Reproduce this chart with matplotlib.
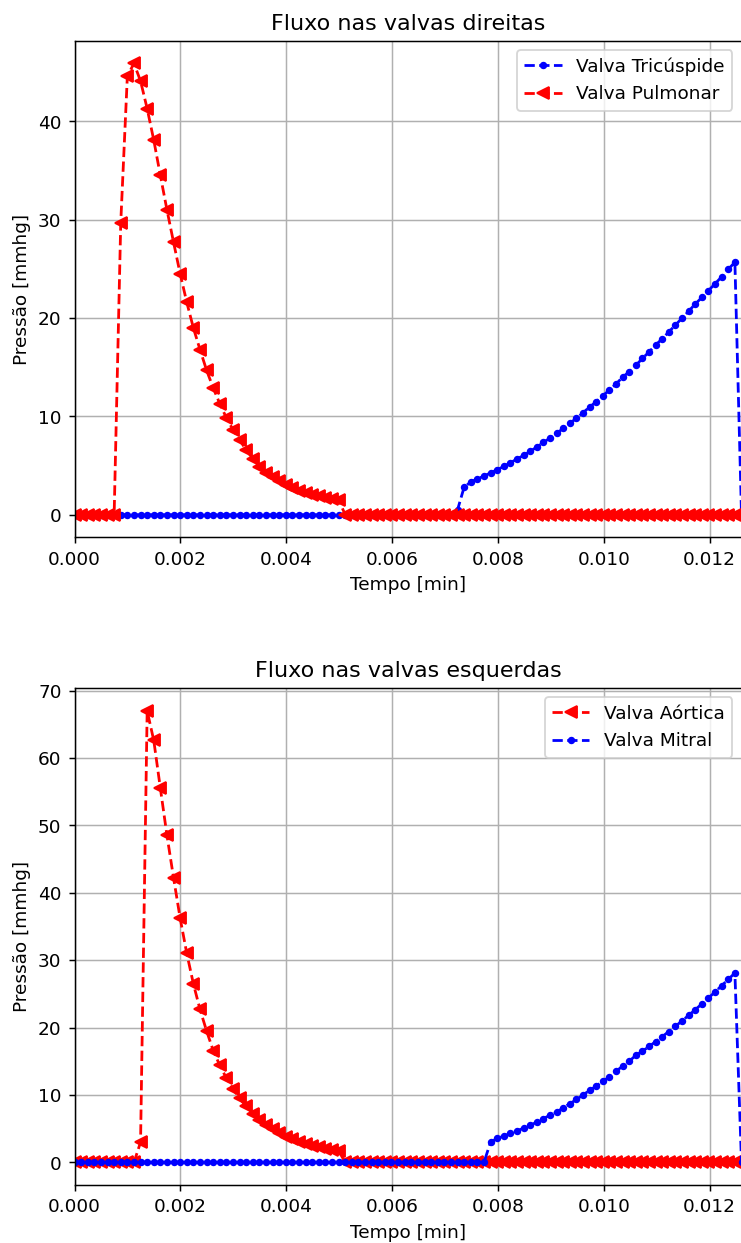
import matplotlib
matplotlib.use("Agg")
import matplotlib.pyplot as plt

tempo = [
    0.0, 0.0001248, 0.0002495, 0.0003743, 0.0004990, 0.0006238, 0.0007485, 0.0008733, 0.0009980, 0.0011228,
    0.0012475, 0.0013723, 0.0014970, 0.0016218, 0.0017465, 0.0018713, 0.0019960, 0.0021208, 0.0022455, 0.0023703,
    0.0024950, 0.0026198, 0.0027446, 0.0028693, 0.0029941, 0.0031188, 0.0032436, 0.0033683, 0.0034931, 0.0036178,
    0.0037426, 0.0038673, 0.0039921, 0.0041168, 0.0042416, 0.0043663, 0.0044911, 0.0046158, 0.0047406, 0.0048653,
    0.0049901, 0.0051149, 0.0052396, 0.0053644, 0.0054891, 0.0056139, 0.0057386, 0.0058634, 0.0059881, 0.0061129,
    0.0062376, 0.0063624, 0.0064871, 0.0066119, 0.0067366, 0.0068614, 0.0069861, 0.0071109, 0.0072356, 0.0073604,
    0.0074851, 0.0076099, 0.0077347, 0.0078594, 0.0079842, 0.0081089, 0.0082337, 0.0083584, 0.0084832, 0.0086079,
    0.0087327, 0.0088574, 0.0089822, 0.0091069, 0.0092317, 0.0093564, 0.0094812, 0.0096059, 0.0097307, 0.0098554,
    0.0099802, 0.0101050, 0.0102297, 0.0103545, 0.0104792, 0.0106040, 0.0107287, 0.0108535, 0.0109782, 0.0111030,
    0.0112277, 0.0113525, 0.0114772, 0.0116020, 0.0117267, 0.0118515, 0.0119762, 0.0121010, 0.0122257, 0.0123505,
    0.0124752, 0.0126000,
]

valva_pulmonar = [
    0, 0, 0, 0, 0, 0, 0, 29.7, 44.6, 45.9,
    44.1, 41.3, 38.1, 34.5, 31.0, 27.7, 24.5, 21.6, 19.0, 16.8,
    14.7, 12.9, 11.3, 9.85, 8.65, 7.6, 6.6, 5.7, 4.9, 4.3,
    3.8, 3.4, 3.05, 2.7, 2.45, 2.2, 2.05, 1.87, 1.72, 1.6,
    1.5, 0, 0, 0, 0, 0, 0, 0, 0, 0,
    0, 0, 0, 0, 0, 0, 0, 0, 0, 0,
    0, 0, 0, 0, 0, 0, 0, 0, 0, 0,
    0, 0, 0, 0, 0, 0, 0, 0, 0, 0,
    0, 0, 0, 0, 0, 0, 0, 0, 0, 0,
    0, 0, 0, 0, 0, 0, 0, 0, 0, 0,
    0, 0,
]

valva_tricuspide = [
    0, 0, 0, 0, 0, 0, 0, 0, 0, 0,
    0, 0, 0, 0, 0, 0, 0, 0, 0, 0,
    0, 0, 0, 0, 0, 0, 0, 0, 0, 0,
    0, 0, 0, 0, 0, 0, 0, 0, 0, 0,
    0, 0, 0, 0, 0, 0, 0, 0, 0, 0,
    0, 0, 0, 0, 0, 0, 0, 0, 0.5, 2.82,
    3.33, 3.66, 3.93, 4.27, 4.58, 4.92, 5.29, 5.67, 6.04, 6.45,
    6.89, 7.36, 7.8, 8.28, 8.79, 9.33, 9.8, 10.38, 10.96, 11.5,
    12.1, 12.7, 13.3, 14.0, 14.55, 15.2, 15.9, 16.56, 17.27, 17.9,
    18.6, 19.3, 20.0, 20.7, 21.44, 22.1, 22.8, 23.5, 24.2, 24.97,
    25.68, 0,
]

valva_aortica = [
    0, 0, 0, 0, 0, 0, 0, 0, 0, 0,
    3.0, 67.0, 62.6, 55.5, 48.5, 42.2, 36.2, 31.0, 26.5, 22.7,
    19.5, 16.6, 14.4, 12.5, 10.9, 9.5, 8.3, 7.25, 6.35, 5.55,
    4.9, 4.3, 3.8, 3.4, 3.05, 2.75, 2.5, 2.25, 2.05, 1.85,
    1.7, 0, 0, 0, 0, 0, 0, 0, 0, 0,
    0, 0, 0, 0, 0, 0, 0, 0, 0, 0,
    0, 0, 0, 0, 0, 0, 0, 0, 0, 0,
    0, 0, 0, 0, 0, 0, 0, 0, 0, 0,
    0, 0, 0, 0, 0, 0, 0, 0, 0, 0,
    0, 0, 0, 0, 0, 0, 0, 0, 0, 0,
    0, 0,
]

valva_mitral = [
    0, 0, 0, 0, 0, 0, 0, 0, 0, 0,
    0, 0, 0, 0, 0, 0, 0, 0, 0, 0,
    0, 0, 0, 0, 0, 0, 0, 0, 0, 0,
    0, 0, 0, 0, 0, 0, 0, 0, 0, 0,
    0, 0, 0, 0, 0, 0, 0, 0, 0, 0,
    0, 0, 0, 0, 0, 0, 0, 0, 0, 0,
    0, 0, 0, 3.0, 3.56, 3.9, 4.3, 4.65, 5.1, 5.5,
    5.98, 6.5, 7.0, 7.46, 8.1, 8.7, 9.34, 10.0, 10.7, 11.3,
    12.06, 12.66, 13.5, 14.3, 15.0, 15.9, 16.5, 17.2, 17.92, 18.66,
    19.42, 20.2, 21.0, 21.82, 22.66, 23.52, 24.4, 25.3, 26.22, 27.16,
    28.1, 0,
]

DPI = 400 / 3
W, H = 741, 1243
fig = plt.figure(figsize=((W + 0.2) / DPI, (H + 0.2) / DPI), dpi=DPI)

ax1 = fig.add_axes([74.5 / W, 1 - 537.5 / H, 666.8 / W, 496.5 / H])
ax2 = fig.add_axes([74.5 / W, 1 - 1185 / H, 666.8 / W, 496.7 / H])

ax1.plot(tempo, valva_tricuspide, 'b.--', label='Valva Tricúspide')
ax1.plot(tempo, valva_pulmonar, 'r<--', label='Valva Pulmonar')
ax1.set_title('Fluxo nas valvas direitas')

ax2.plot(tempo, valva_aortica, 'r<--', label='Valva Aórtica')
ax2.plot(tempo, valva_mitral, 'b.--', label='Valva Mitral')
ax2.set_title('Fluxo nas valvas esquerdas')

for ax in (ax1, ax2):
    ax.set_xlim(tempo[0], tempo[-1])
    ax.set_xlabel('Tempo [min]')
    ax.set_ylabel('Pressão [mmhg]')
    ax.grid(True)
    ax.legend(loc='upper right')

fig.savefig('out.png', dpi=DPI)
